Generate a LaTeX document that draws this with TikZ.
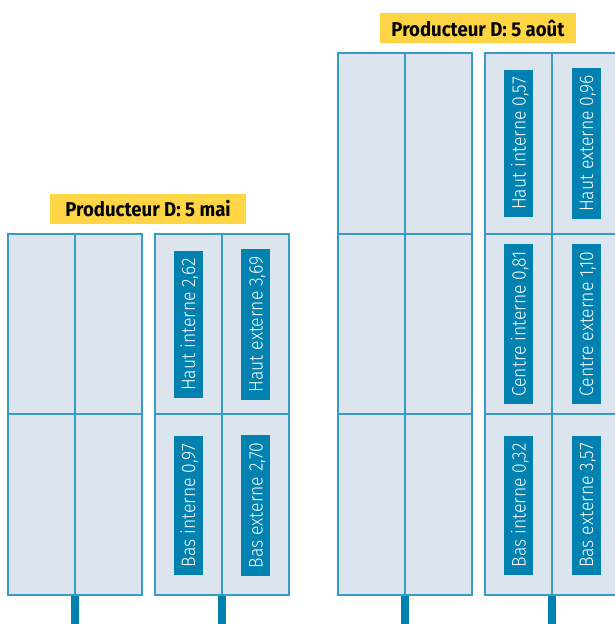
\documentclass[tikz,border=0pt]{standalone}
\usepackage{fontspec}
\setmainfont{Fira Sans}[FakeStretch=0.93]
\newfontfamily\leger{Fira Sans}[UprightFont=* Light, FakeStretch=0.9]
\usetikzlibrary{positioning}
\definecolor{fondpanneau}{RGB}{220,229,238}
\definecolor{bleucadre}{RGB}{56,155,198}
\definecolor{bleuetiq}{RGB}{0,129,176}
\definecolor{jaunetitre}{RGB}{255,213,69}

\begin{document}
\begin{tikzpicture}[
    x=1pt,y=-1pt,
    cadre/.style={draw=bleucadre, line width=1.6pt, fill=fondpanneau},
    trait/.style={bleucadre, line width=2pt},
    pied/.style={bleuetiq, line width=8.5pt},
    etiquette/.style={fill=bleuetiq, text=white, rotate=90, font=\leger\fontsize{19.5}{19.5}\selectfont,
      minimum height=29, inner xsep=7.5, inner ysep=0, text height=14, text depth=0},
    titre/.style={fill=jaunetitre, font=\bfseries\fontsize{20}{20}\selectfont,
      minimum width=196, minimum height=30, inner sep=0}
    ]
    \useasboundingbox (0,0) rectangle (614,624);
    % panneaux
    \foreach \x/\y in {8/234, 155/234, 338/53, 485/53} {
      \draw[pied] (\x+67,595) -- (\x+67,624);
      \draw[cadre] (\x,\y) rectangle (\x+134,595);
      \draw[trait] (\x+67,\y) -- (\x+67,595);
      \draw[trait] (\x,414) -- (\x+134,414);
    }
    \draw[trait] (338,234) -- (472,234);
    \draw[trait] (485,234) -- (619,234);
    % titres
    \node[titre] (mai) at (148,209) {Producteur D: 5 mai};
    \node[titre] (aout) at (478,28) {Producteur D: 5 août};
    % 5 mai
    \node[etiquette] (hautint1) at (188,324.5) {Haut interne 2,62};
    \node[etiquette] (hautext1) at (255.5,324.5) {Haut externe 3,69};
    \node[etiquette] (basint1) at (188,505.5) {Bas interne 0,97};
    \node[etiquette] (basext1) at (255.5,505.5) {Bas externe 2,70};
    % 5 aout
    \node[etiquette] (hautint2) at (518.5,143.5) {Haut interne 0,57};
    \node[etiquette] (hautext2) at (586,143.5) {Haut externe 0,96};
    \node[etiquette] (centreint2) at (518.5,324) {Centre interne 0,81};
    \node[etiquette] (centreext2) at (586,324) {Centre externe 1,10};
    \node[etiquette] (basint2) at (518.5,505.5) {Bas interne 0,32};
    \node[etiquette] (basext2) at (586,505.5) {Bas externe 3,57};
\end{tikzpicture}
\end{document}
